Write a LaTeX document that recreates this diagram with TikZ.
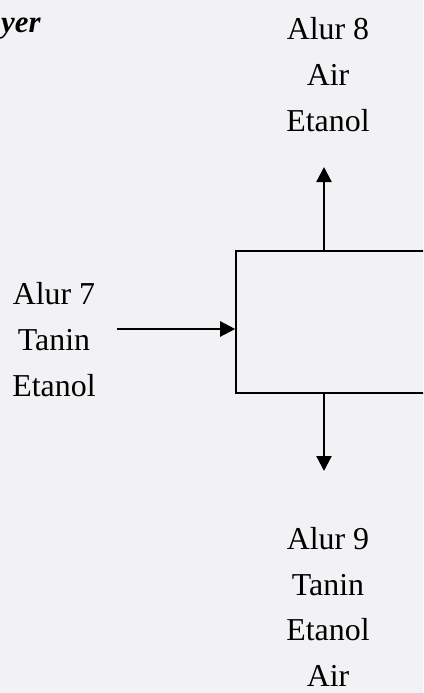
\documentclass[tikz,border=0pt]{standalone}
\usepackage{fontspec}
\setmainfont{Liberation Serif}
\usetikzlibrary{arrows.meta,positioning}
\definecolor{pagebg}{RGB}{242,242,244}

\begin{document}
\begin{tikzpicture}[
  x=1bp, y=-1bp,
  unit/.style={draw, line width=1.6bp, minimum width=230bp, minimum height=142bp, inner sep=0pt},
  lbl/.style={align=center, inner sep=0pt, font=\fontsize{32}{46}\selectfont},
  flow/.style={-{Triangle[length=15bp,width=15bp]}, line width=2.3bp, draw=black}
]
\fill[pagebg] (0,0) rectangle (423,693);
\clip (0,0) rectangle (423,693);

\node[anchor=base west, inner sep=0pt, font=\fontsize{31}{36}\selectfont\bfseries\itshape] (ttl) at (1,33) {yer};

\node[unit] (unit) at (351,322) {};

\node[lbl] (in7) at (54,339.5) {Alur 7\\Tanin\\Etanol};
\node[lbl] (out8) at (328,74.5) {Alur 8\\Air\\Etanol};
\node[lbl] (out9) at (328,607) {Alur 9\\Tanin\\Etanol\\Air};

\coordinate (tip8) at (324,167);
\coordinate (tip9) at (324,471);
\coordinate (tail7) at (117,329);

\draw[flow] (tip8 |- unit.north) -- (tip8);
\draw[flow] (tip9 |- unit.south) -- (tip9);
\draw[flow] (tail7) -- (tail7 -| unit.west);
\end{tikzpicture}
\end{document}
